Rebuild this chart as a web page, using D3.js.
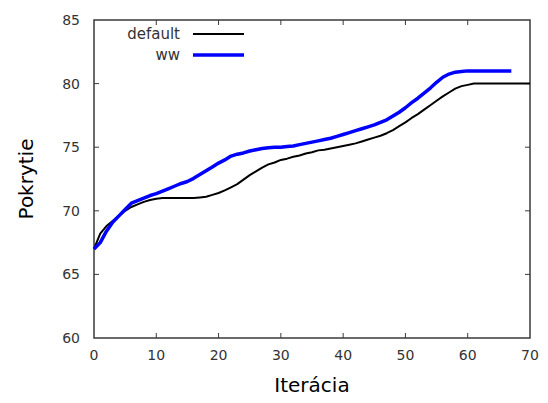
<!DOCTYPE html>
<html>
<head>
<meta charset="utf-8">
<script src="https://cdn.jsdelivr.net/npm/d3@7"></script>
<style>
  body { margin: 0; background: #fff; }
  svg text { font-family: "DejaVu Sans", sans-serif; fill: #333; }
</style>
</head>
<body>
<div id="chart"></div>
<script>
// coverage per iteration
const defaultValues = [
  67.0, 68.2, 68.8, 69.2, 69.6, 70.0, 70.3, 70.5, 70.7, 70.85,
  70.95, 71.0, 71.0, 71.0, 71.0, 71.0, 71.0, 71.05, 71.1, 71.25,
  71.4, 71.6, 71.85, 72.1, 72.45, 72.8, 73.1, 73.4, 73.65, 73.8,
  74.0, 74.1, 74.25, 74.35, 74.5, 74.6, 74.75, 74.8, 74.9, 75.0,
  75.1, 75.2, 75.3, 75.45, 75.6, 75.75, 75.9, 76.1, 76.35, 76.65,
  76.95, 77.3, 77.6, 77.95, 78.3, 78.65, 79.0, 79.3, 79.6, 79.8,
  79.9, 80.0, 80.0, 80.0, 80.0, 80.0, 80.0, 80.0, 80.0, 80.0,
  80.0
]
const wwValues = [
  67.0, 67.5, 68.4, 69.1, 69.6, 70.1, 70.6, 70.8, 71.0, 71.2,
  71.35, 71.55, 71.75, 71.95, 72.15, 72.3, 72.55, 72.85, 73.15, 73.45,
  73.75, 74.0, 74.3, 74.45, 74.55, 74.7, 74.8, 74.9, 74.95, 75.0,
  75.0, 75.05, 75.1, 75.2, 75.3, 75.4, 75.5, 75.6, 75.7, 75.85,
  76.0, 76.15, 76.3, 76.45, 76.6, 76.75, 76.95, 77.15, 77.45, 77.75,
  78.1, 78.5, 78.85, 79.25, 79.65, 80.1, 80.5, 80.75, 80.9, 80.95,
  81.0, 81.0, 81.0, 81.0, 81.0, 81.0, 81.0, 81.0
]
const seriesNames = ['default', 'ww']
const seriesColors = ['#000000', '#0000ff']
const xTicks = [0, 10, 20, 30, 40, 50, 60, 70]
const yTicks = [60, 65, 70, 75, 80, 85]

const width = 548, height = 403
const plot = {left: 94, right: 530, top: 20, bottom: 338}

const svg = d3.select('#chart').append('svg')
  .attr('width', width)
  .attr('height', height)

const x = d3.scaleLinear().domain([0, 70]).range([plot.left, plot.right])
const y = d3.scaleLinear().domain([60, 85]).range([plot.bottom, plot.top])

const tickLen = 5
const frameColor = '#3a3a3a'

// frame
svg.append('rect')
  .attr('x', plot.left).attr('y', plot.top)
  .attr('width', plot.right - plot.left).attr('height', plot.bottom - plot.top)
  .attr('fill', 'none').attr('stroke', frameColor).attr('stroke-width', 1.5)

// inward ticks on all four sides (mirrored)
const tickG = svg.append('g').attr('stroke', frameColor).attr('stroke-width', 1)
xTicks.slice(1, -1).forEach((t) => {
  tickG.append('line').attr('x1', x(t)).attr('x2', x(t)).attr('y1', plot.bottom).attr('y2', plot.bottom - tickLen)
  tickG.append('line').attr('x1', x(t)).attr('x2', x(t)).attr('y1', plot.top).attr('y2', plot.top + tickLen)
})
yTicks.slice(1, -1).forEach((t) => {
  tickG.append('line').attr('x1', plot.left).attr('x2', plot.left + tickLen).attr('y1', y(t)).attr('y2', y(t))
  tickG.append('line').attr('x1', plot.right).attr('x2', plot.right - tickLen).attr('y1', y(t)).attr('y2', y(t))
})

// tick labels
svg.append('g').selectAll('text')
  .data(xTicks)
  .enter()
    .append('text')
    .attr('x', (d) => x(d))
    .attr('y', plot.bottom + 22)
    .attr('text-anchor', 'middle')
    .attr('font-size', 14)
    .text((d) => d)

svg.append('g').selectAll('text')
  .data(yTicks)
  .enter()
    .append('text')
    .attr('x', plot.left - 14)
    .attr('y', (d) => y(d) + 5)
    .attr('text-anchor', 'end')
    .attr('font-size', 14)
    .text((d) => d)

// axis titles
svg.append('text')
  .attr('x', (plot.left + plot.right) / 2)
  .attr('y', 392)
  .attr('text-anchor', 'middle')
  .attr('font-size', 20)
  .style('fill', '#000')
  .text('Iterácia')

svg.append('text')
  .attr('transform', `translate(33, ${(plot.top + plot.bottom) / 2}) rotate(-90)`)
  .attr('text-anchor', 'middle')
  .attr('font-size', 20)
  .style('fill', '#000')
  .text('Pokrytie')

// lines
const line = d3.line()
  .x((d, i) => x(i))
  .y((d) => y(d))

const series = [defaultValues, wwValues]
const widths = [2, 3.5]
series.forEach((vals, k) => {
  svg.append('path')
    .datum(vals)
    .attr('d', line)
    .attr('fill', 'none')
    .attr('stroke', seriesColors[k])
    .attr('stroke-width', widths[k])
    .attr('stroke-linejoin', 'round')
})

// legend
const legend = svg.append('g')
seriesNames.forEach((name, k) => {
  const ly = 34 + k * 21
  legend.append('text')
    .attr('x', 180)
    .attr('y', ly + 5)
    .attr('text-anchor', 'end')
    .attr('font-size', 15)
    .text(name)
  legend.append('line')
    .attr('x1', 193).attr('x2', 244)
    .attr('y1', ly).attr('y2', ly)
    .attr('stroke', seriesColors[k])
    .attr('stroke-width', widths[k])
})
</script>
</body>
</html>
